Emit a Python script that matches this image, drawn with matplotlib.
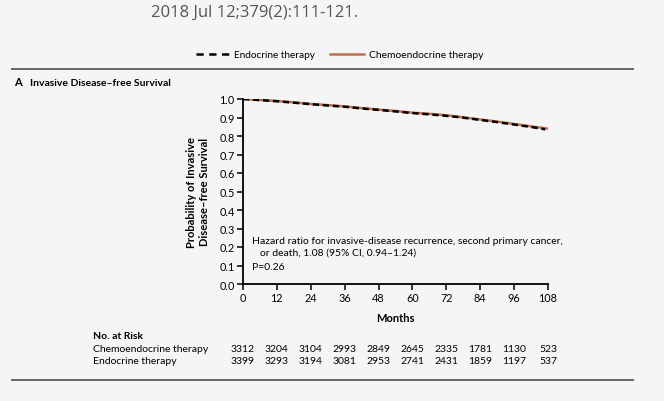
import matplotlib
matplotlib.use("Agg")
import matplotlib.pyplot as plt
from matplotlib.lines import Line2D
import matplotlib.transforms as mtransforms

# ---- data ----
months = [0, 6, 12, 18, 24, 30, 36, 42, 48, 54, 60, 66, 72, 78, 84, 90, 96, 102, 108]
chemo = [1.0, 0.995, 0.989, 0.982, 0.973, 0.967, 0.960, 0.951, 0.943, 0.935, 0.926, 0.920, 0.912, 0.901, 0.889, 0.878, 0.865, 0.852, 0.840]
endo_months = [0, 6, 12, 18, 24, 30, 36, 42, 48, 54, 60, 66, 72, 78, 84, 90, 96, 102, 107]
endo = [1.0, 0.994, 0.988, 0.980, 0.972, 0.965, 0.958, 0.949, 0.941, 0.933, 0.924, 0.917, 0.909, 0.899, 0.887, 0.875, 0.862, 0.849, 0.836]
xticks = [0, 12, 24, 36, 48, 60, 72, 84, 96, 108]
yticks = [0.0, 0.1, 0.2, 0.3, 0.4, 0.5, 0.6, 0.7, 0.8, 0.9, 1.0]
risk_chemo = [3312, 3204, 3104, 2993, 2849, 2645, 2335, 1781, 1130, 523]
risk_endo = [3399, 3293, 3194, 3081, 2953, 2741, 2431, 1859, 1197, 537]

W, H = 664, 402
bg = "#f5f5f5"
chemo_color = "#c0704f"
font = "Lato"

fig = plt.figure(figsize=(W / 100, H / 100), dpi=100, facecolor=bg)

def fx(px):
    return px / W

def fy(py):
    return 1 - py / H

ax = fig.add_axes([fx(243), fy(285), fx(548) - fx(243), fy(100) - fy(285)])
ax.set_facecolor(bg)
ax.plot(months, chemo, color=chemo_color, lw=1.8, zorder=2)
ax.plot(endo_months, endo, color="black", lw=1.8, ls=(0, (2.5, 1.5)), zorder=3)
ax.set_xlim(0, 108)
ax.set_ylim(0, 1.0)
ax.set_xticks(xticks)
ax.set_yticks(yticks)
ax.set_yticklabels([f"{v:.1f}" for v in yticks])
for s in ["top", "right"]:
    ax.spines[s].set_visible(False)
for s in ["left", "bottom"]:
    ax.spines[s].set_linewidth(1.3)
ax.tick_params(direction="out", length=4, width=1.1, labelsize=7.8, pad=2)
for lab in ax.get_xticklabels() + ax.get_yticklabels():
    lab.set_fontfamily(font)
ax.set_xlabel("Months", fontsize=8, fontweight="bold", family=font, labelpad=6)

ax.text(0.03, 0.235, "Hazard ratio for invasive-disease recurrence, second primary cancer,",
        transform=ax.transAxes, fontsize=7.5, family=font, va="center")
ax.text(0.055, 0.17, "or death, 1.08 (95% CI, 0.94\u20131.24)",
        transform=ax.transAxes, fontsize=7.5, family=font, va="center")
ax.text(0.03, 0.095, "P=0.26", transform=ax.transAxes, fontsize=7.5, family=font, va="center")

# y-label (two lines)
fig.text(fx(191), fy(192), "Probability of Invasive", rotation=90, ha="center", va="center",
         fontsize=8, fontweight="bold", family=font)
fig.text(fx(205), fy(192), "Disease\u2013free Survival", rotation=90, ha="center", va="center",
         fontsize=8, fontweight="bold", family=font)

# top citation
fig.text(fx(151), fy(13), "2018 Jul 12;379(2):111-121.", fontsize=12, color="#555555",
         family="Open Sans", va="center", ha="left")

# legend
fig.add_artist(Line2D([fx(196), fx(229)], [fy(55), fy(55)], color="black", lw=1.8,
                      ls=(0, (2.9, 2.2)), dash_capstyle="butt"))
fig.text(fx(234), fy(55), "Endocrine therapy", fontsize=7.2, family=font, va="center")
fig.add_artist(Line2D([fx(330), fx(364)], [fy(55), fy(55)], color=chemo_color, lw=1.8))
fig.text(fx(369), fy(55), "Chemoendocrine therapy", fontsize=7.4, family=font, va="center")

# rules
fig.add_artist(Line2D([fx(12), fx(633)], [fy(70), fy(70)], color="#666666", lw=1.4))
fig.add_artist(Line2D([fx(12), fx(633)], [fy(381), fy(381)], color="#666666", lw=1.4))

# panel title
fig.text(fx(14), fy(83), "A", fontsize=8, fontweight="bold", family=font, va="center")
fig.text(fx(30), fy(83), "Invasive Disease\u2013free Survival", fontsize=7.5, fontweight="bold",
         family=font, va="center")

# risk table
fig.text(fx(93), fy(337), "No. at Risk", fontsize=7.5, fontweight="bold", family=font, va="center")
fig.text(fx(93), fy(350), "Chemoendocrine therapy", fontsize=7.5, family=font, va="center")
fig.text(fx(93), fy(362), "Endocrine therapy", fontsize=7.5, family=font, va="center")
trans = mtransforms.blended_transform_factory(ax.transData, fig.transFigure)
for m, c, e in zip(xticks, risk_chemo, risk_endo):
    ax.text(m, fy(350), str(c), transform=trans, ha="center", va="center", fontsize=7.5, family=font)
    ax.text(m, fy(362), str(e), transform=trans, ha="center", va="center", fontsize=7.5, family=font)

fig.savefig("out.png", dpi=100, facecolor=bg)
